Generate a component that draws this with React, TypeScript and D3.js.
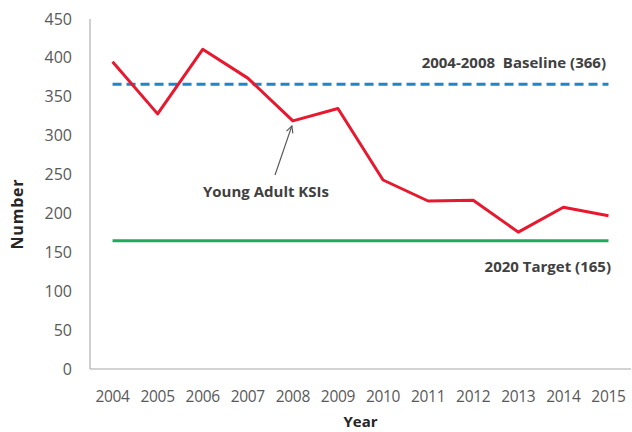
import React from "react";
import * as d3 from "d3";

const years = ["2004","2005","2006","2007","2008","2009","2010","2011","2012","2013","2014","2015"];
const ksis = [395, 328, 411, 374, 319, 335, 243, 216, 217, 176, 208, 197];
const baseline = 366;
const target = 165;
const yTicks = [0, 50, 100, 150, 200, 250, 300, 350, 400, 450];

export default function App() {
  const W = 632, H = 432;
  const left = 90, right = 631, top = 19, bottom = 369;
  const x = d3.scaleBand<string>().domain(years).range([left, right]);
  const y = d3.scaleLinear().domain([0, 450]).range([bottom, top]);
  const cx = (yr: string) => (x(yr) as number) + x.bandwidth() / 2;
  const line = d3.line<number>().x((_, i) => cx(years[i])).y((d) => y(d));
  const x0 = cx(years[0]);
  const x1 = cx(years[years.length - 1]);
  const font = "'Open Sans', 'Liberation Sans', sans-serif";
  const i2008 = years.indexOf("2008");
  const ax = cx(years[i2008]);
  const ay = y(ksis[i2008]);
  return (
    <svg width={W} height={H} style={{ position: "absolute", left: 0, top: 0, background: "#fff" }} fontFamily={font}>
      <defs>
        <marker id="ah" viewBox="0 0 10 10" refX="9" refY="5" markerWidth="7" markerHeight="7" orient="auto-start-reverse">
          <path d="M1,1 L9,5 L1,9" fill="none" stroke="#595959" strokeWidth="1.4" />
        </marker>
      </defs>
      <line x1={left} x2={left} y1={top} y2={bottom} stroke="#BFBFBF" strokeWidth={1.5} />
      <line x1={left} x2={right} y1={bottom} y2={bottom} stroke="#A6A6A6" strokeWidth={1} />
      {yTicks.map((t) => (
        <text key={t} x={72} y={y(t)} dy="0.35em" textAnchor="end" fontSize={16} fill="#595959">{t}</text>
      ))}
      {years.map((yr) => (
        <text key={yr} x={cx(yr)} y={397} dy="0.35em" textAnchor="middle" fontSize={15.5} letterSpacing={-0.3} fill="#595959">{yr}</text>
      ))}
      <text x={(left + right) / 2} y={422} dy="0.35em" textAnchor="middle" fontSize={15} fontWeight="bold" fill="#262626">Year</text>
      <text transform={`translate(17, 214) rotate(-90)`} dy="0.35em" textAnchor="middle" fontSize={16} letterSpacing={0.8} fontWeight="bold" fill="#262626">Number</text>
      <line x1={x0} x2={x1} y1={y(baseline)} y2={y(baseline)} stroke="#1F86C8" strokeWidth={3} strokeDasharray="9,5" />
      <line x1={x0} x2={x1} y1={y(target)} y2={y(target)} stroke="#1DAA5C" strokeWidth={3} />
      <path d={line(ksis) || ""} fill="none" stroke="#E8182E" strokeWidth={3} strokeLinejoin="round" />
      <text x={606} y={63} dy="0.35em" textAnchor="end" fontSize={15} fontWeight="bold" fill="#404040" xmlSpace="preserve">2004-2008  Baseline (366)</text>
      <text x={611} y={267} dy="0.35em" textAnchor="end" fontSize={15} fontWeight="bold" fill="#404040">2020 Target (165)</text>
      <text x={266} y={192} dy="0.35em" textAnchor="middle" fontSize={15} fontWeight="bold" fill="#404040">Young Adult KSIs</text>
      <line x1={275} y1={175} x2={ax - 1} y2={ay + 5} stroke="#595959" strokeWidth={1.2} markerEnd="url(#ah)" />
    </svg>
  );
}
